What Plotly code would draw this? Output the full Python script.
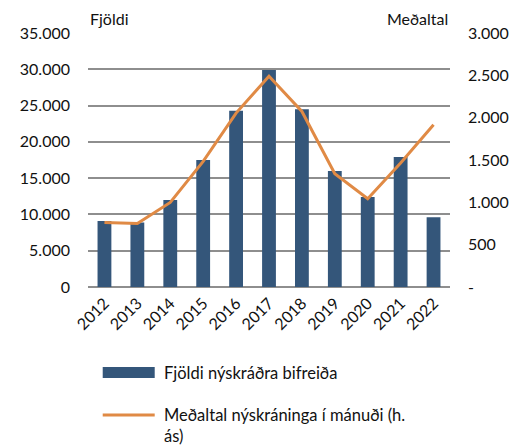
import plotly.graph_objects as go

years = ["2012", "2013", "2014", "2015", "2016", "2017", "2018", "2019", "2020", "2021", "2022"]
fjoldi = [9100, 8900, 12000, 17500, 24300, 29900, 24500, 16000, 12400, 17900, 9600]
medaltal = [763, 751, 999, 1483, 2054, 2490, 2073, 1337, 1042, 1464, 1916]

left_ticks = [0, 5000, 10000, 15000, 20000, 25000, 30000, 35000]
left_text = ["0", "5.000", "10.000", "15.000", "20.000", "25.000", "30.000", "35.000"]
right_ticks = [0, 500, 1000, 1500, 2000, 2500, 3000]
right_text = ["-", "500", "1.000", "1.500", "2.000", "2.500", "3.000"]

bar_name = "Fjöldi nýskráðra bifreiða"
line_name = "Meðaltal nýskráninga í mánuði (h.<br>ás)"

OFF = 8  # default page body margin
W, H = 521 - OFF, 446 - OFF
L, R, T, B = 82 - OFF, 451 - OFF, 33 - OFF, 287 - OFF
FONT = "Lato"
BAR_C = "#34567A"
LINE_C = "#E08A45"
GRID_C = "#8E8E8E"

def px(x):
    return (x - OFF - L) / (R - L)

def py(y):
    return (B - (y - OFF)) / (B - T)

fig = go.Figure()
fig.add_trace(go.Bar(x=years, y=fjoldi, marker=dict(color=BAR_C, line=dict(width=0)),
                     name=bar_name, showlegend=False, yaxis="y"))
fig.add_trace(go.Scatter(x=years, y=medaltal, mode="lines", line=dict(color=LINE_C, width=3),
                         name=line_name, showlegend=False, yaxis="y2"))

fig.update_layout(
    width=W, height=H,
    margin=dict(l=L, r=W - R, t=T, b=H - B, pad=0),
    paper_bgcolor="white", plot_bgcolor="white",
    font=dict(family=FONT, size=16, color="#111"),
    bargap=0.58,
    showlegend=False,
    xaxis=dict(tickangle=-45, showgrid=False, showline=False, ticks="",
               tickfont=dict(size=16), ticklabelstandoff=3),
    yaxis=dict(range=[0, 35000], tickvals=left_ticks, ticktext=left_text,
               showgrid=True, gridcolor=GRID_C, gridwidth=2, zeroline=True,
               zerolinecolor=GRID_C, zerolinewidth=2, showline=False, ticks="",
               ticklabelstandoff=17, tickfont=dict(size=16)),
    yaxis2=dict(range=[0, 3000], tickvals=right_ticks, ticktext=right_text,
                overlaying="y", side="right", showgrid=False, zeroline=False,
                showline=False, ticks="", ticklabelstandoff=17, tickfont=dict(size=16)),
)

annots = [
    dict(x=px(82), y=py(18), text="Fjöldi", xanchor="left", yanchor="middle", size=16),
    dict(x=px(451), y=py(18), text="Meðaltal", xanchor="right", yanchor="middle", size=16),
    dict(x=px(157), y=py(373), text=bar_name, xanchor="left", yanchor="middle", size=16.5),
    dict(x=px(157), y=py(425), text=line_name, xanchor="left", yanchor="middle", align="left", size=16.5),
]
for a in annots:
    s = a.pop("size")
    a.update(xref="paper", yref="paper", showarrow=False, font=dict(family=FONT, size=s, color="#111"))
fig.update_layout(annotations=annots)

fig.add_shape(type="rect", xref="paper", yref="paper", x0=px(97), x1=px(150), y0=py(367), y1=py(378),
              fillcolor=BAR_C, line=dict(width=0))
fig.add_shape(type="line", xref="paper", yref="paper", x0=px(97), x1=px(150), y0=py(415), y1=py(415),
              line=dict(color=LINE_C, width=3))

fig.write_html("out.html")
